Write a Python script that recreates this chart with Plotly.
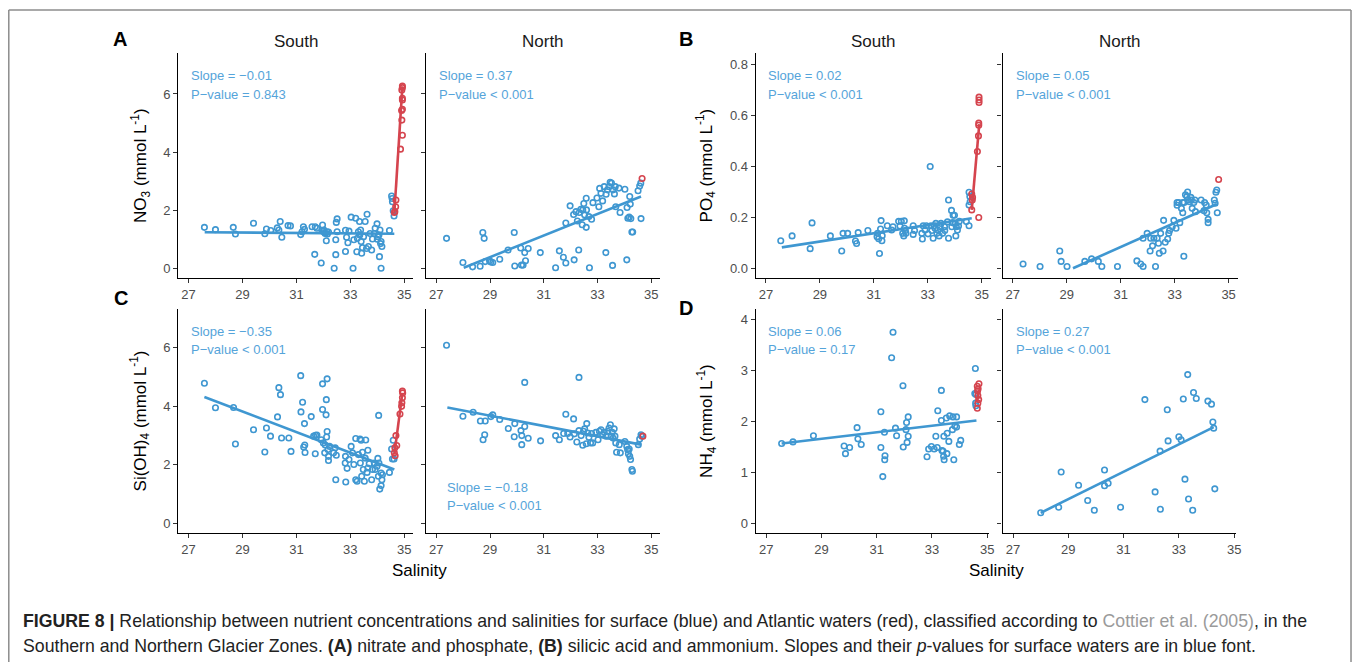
import plotly.graph_objects as go

# The page body has an 8px default margin, so the figure is drawn 8px smaller
# and every target pixel position is shifted by that offset.
PAGE_W, PAGE_H = 1360, 662
OFF = 8
W, H = PAGE_W - OFF, PAGE_H - OFF
BLUE = '#3F97D1'
RED = '#D5444E'
TXT_BLUE = '#55A4DA'
FONT = 'Liberation Sans, Arial, Helvetica, sans-serif'

# ---------------- data ----------------
x_ticks = [27, 29, 31, 33, 35]

# A: NO3, South
a_s_x = [27.59, 28.00, 28.66, 28.74, 29.41, 29.83, 29.89, 30.05, 30.29, 30.35, 30.40, 30.46, 30.69, 30.78,
         31.16, 31.21, 31.26, 31.30, 31.58, 31.68, 31.70, 31.76, 31.92, 31.97, 32.02, 32.07, 32.13, 32.19,
         32.11, 32.40, 32.46, 32.46, 32.48, 32.51, 32.51, 32.82, 32.82, 32.86, 32.91, 32.95, 33.03, 33.10,
         33.13, 33.20, 33.24, 33.26, 33.30, 33.34, 33.38, 33.40, 33.42, 33.45, 33.49, 33.55, 33.60, 33.62,
         33.67, 33.73, 33.79, 33.82, 33.89, 33.92, 33.99, 34.02, 34.06, 34.08, 34.10, 34.14, 34.17, 34.14,
         34.45, 34.53, 34.56, 34.59, 34.62, 32.00, 32.05, 32.15, 31.95, 33.35, 34.00, 34.12, 34.55]
a_s_y = [1.41, 1.33, 1.41, 1.18, 1.55, 1.19, 1.35, 1.30, 1.39, 1.32, 1.61, 1.07, 1.47, 1.46,
         1.16, 1.26, 1.43, 1.34, 1.43, 0.48, 1.43, 1.38, 0.18, 1.49, 1.32, 1.20, 1.26, 1.25,
         0.95, 0.00, 0.47, 0.98, 1.58, 1.70, 1.26, 1.31, 0.58, 1.07, 0.88, 1.28, 1.76, 0.00,
         0.98, 1.72, 0.57, 1.03, 1.26, 1.61, 1.32, 0.92, 0.52, 0.71, 1.09, 1.61, 0.68, 1.86,
         0.75, 1.20, 0.63, 1.01, 1.20, 1.38, 1.53, 1.09, 1.15, 0.40, 1.32, 0.92, 0.75, 0.00,
         1.30, 2.49, 2.29, 1.98, 1.80, 1.27, 1.22, 1.18, 1.30, 1.15, 1.00, 0.85, 2.40]
a_s_red_x = [34.63, 34.65, 34.68, 34.69, 34.86, 34.93, 34.91, 34.90, 34.93, 34.93, 34.93, 34.91, 34.93, 34.93]
a_s_red_y = [1.92, 1.95, 2.12, 2.35, 4.10, 4.58, 5.10, 5.43, 5.47, 5.79, 5.85, 6.14, 6.22, 6.27]
a_s_fit_x = [27.60, 34.63]
a_s_fit_y = [1.24, 1.19]
a_s_red_fit_x = [34.63, 34.93]
a_s_red_fit_y = [1.90, 6.25]

# A: NO3, North
a_n_x = [27.38, 27.99, 28.35, 28.63, 28.73, 28.78, 28.82, 28.98, 29.03, 29.10, 29.36, 29.67, 29.90, 29.92,
         30.14, 30.17, 30.23, 30.29, 30.32, 30.42, 30.87, 31.44, 31.58, 31.73, 31.82, 31.82, 31.98, 32.11,
         32.13, 32.20, 32.25, 32.30, 32.32, 32.38, 32.43, 32.45, 32.49, 32.52, 32.58, 32.58, 32.59, 32.68,
         32.70, 32.78, 32.83, 32.98, 33.05, 33.08, 33.13, 33.19, 33.25, 33.31, 33.32, 33.37, 33.43, 33.47,
         33.52, 33.56, 33.58, 33.63, 33.66, 33.68, 33.80, 33.84, 34.02, 34.09, 34.10, 34.13, 34.18, 34.20,
         34.22, 34.24, 34.28, 34.31, 34.51, 34.57, 34.62, 34.61]
a_n_y = [1.03, 0.20, 0.05, 0.07, 1.23, 1.03, 0.23, 0.26, 0.22, 0.20, 0.31, 0.63, 1.23, 0.08,
         0.70, 0.11, 0.11, 0.54, 0.26, 0.68, 0.54, 0.02, 0.60, 0.38, 1.56, 0.18, 2.15, 1.85,
         0.29, 1.95, 1.63, 0.63, 1.92, 2.03, 1.50, 2.01, 2.23, 1.84, 1.41, 2.41, 2.01, 1.78,
         0.02, 1.69, 2.26, 2.42, 2.12, 2.75, 2.58, 2.32, 2.81, 0.54, 2.55, 2.70, 2.81, 2.96,
         2.93, 0.10, 2.70, 2.56, 2.81, 2.12, 2.76, 1.92, 2.72, 0.29, 2.09, 1.72, 1.76, 2.47,
         2.21, 1.71, 1.25, 1.25, 2.67, 2.83, 1.71, 2.93]
a_n_red_x = [34.66]
a_n_red_y = [3.09]
a_n_fit_x = [28.02, 34.62]
a_n_fit_y = [0.02, 2.47]

# B: PO4, South
b_s_x = [27.55, 27.97, 28.64, 28.71, 29.39, 29.81, 29.86, 30.03, 30.32, 30.36, 30.42, 30.78, 31.12, 31.14,
         31.18, 31.21, 31.27, 31.25, 31.30, 31.31, 31.50, 31.66, 31.71, 31.92, 31.97, 32.02, 32.07, 32.11,
         32.13, 32.14, 32.17, 32.19, 32.46, 32.46, 32.51, 32.78, 32.80, 32.83, 32.90, 32.95, 33.01, 33.09,
         33.12, 33.15, 33.20, 33.23, 33.27, 33.30, 33.34, 33.37, 33.42, 33.46, 33.49, 33.55, 33.62, 33.63,
         33.73, 33.77, 33.77, 33.88, 33.89, 33.92, 33.94, 33.99, 34.02, 34.04, 34.06, 34.10, 34.14, 34.17,
         34.43, 34.53, 34.53, 34.53, 34.56, 34.57]
b_s_y = [0.108, 0.127, 0.077, 0.178, 0.127, 0.068, 0.137, 0.137, 0.107, 0.097, 0.140, 0.148, 0.124, 0.137,
         0.116, 0.058, 0.187, 0.154, 0.108, 0.128, 0.167, 0.150, 0.163, 0.184, 0.166, 0.184, 0.137, 0.127,
         0.186, 0.157, 0.148, 0.137, 0.167, 0.133, 0.148, 0.137, 0.115, 0.167, 0.150, 0.167, 0.135, 0.399,
         0.167, 0.148, 0.118, 0.167, 0.157, 0.176, 0.137, 0.150, 0.127, 0.163, 0.176, 0.137, 0.163, 0.148,
         0.182, 0.268, 0.118, 0.227, 0.163, 0.179, 0.208, 0.208, 0.176, 0.127, 0.163, 0.150, 0.166, 0.184,
         0.183, 0.167, 0.298, 0.248, 0.281, 0.261]
b_s_red_x = [34.63, 34.65, 34.63, 34.66, 34.84, 34.88, 34.89, 34.89, 34.90, 34.90, 34.90, 34.89]
b_s_red_y = [0.291, 0.268, 0.229, 0.278, 0.458, 0.519, 0.561, 0.569, 0.650, 0.660, 0.671, 0.199]
b_s_fit_x = [27.59, 34.63]
b_s_fit_y = [0.082, 0.196]
b_s_red_fit_x = [34.63, 34.91]
b_s_red_fit_y = [0.229, 0.565]

# B: PO4, North
b_n_x = [27.38, 28.01, 28.74, 28.79, 29.01, 29.67, 29.92, 30.17, 30.30, 30.88, 31.60, 31.74, 31.83, 31.83,
         31.98, 32.09, 32.11, 32.18, 32.23, 32.29, 32.35, 32.40, 32.43, 32.48, 32.57, 32.59, 32.65, 32.74,
         32.78, 32.81, 32.91, 32.97, 33.05, 33.09, 33.09, 33.15, 33.19, 33.25, 33.30, 33.30, 33.34, 33.35,
         33.40, 33.45, 33.48, 33.50, 33.55, 33.60, 33.62, 33.65, 33.71, 33.75, 33.77, 33.98, 34.09, 34.11,
         34.17, 34.19, 34.24, 34.24, 34.47, 34.50, 34.53, 34.56, 34.58]
b_n_y = [0.017, 0.007, 0.068, 0.027, 0.007, 0.027, 0.037, 0.027, 0.007, 0.007, 0.029, 0.017, 0.007, 0.118,
         0.137, 0.068, 0.118, 0.088, 0.118, 0.007, 0.118, 0.098, 0.059, 0.137, 0.068, 0.188, 0.102, 0.115,
         0.137, 0.148, 0.163, 0.188, 0.157, 0.247, 0.258, 0.258, 0.179, 0.235, 0.258, 0.218, 0.047, 0.258,
         0.288, 0.281, 0.299, 0.268, 0.261, 0.278, 0.268, 0.235, 0.258, 0.268, 0.222, 0.268, 0.226, 0.258,
         0.248, 0.218, 0.192, 0.179, 0.268, 0.255, 0.298, 0.307, 0.218]
b_n_red_x = [34.63]
b_n_red_y = [0.348]
b_n_fit_x = [29.23, 34.57]
b_n_fit_y = [0.000, 0.252]

# C: Si(OH)4, South
c_s_x = [27.59, 28.00, 28.67, 28.74, 29.41, 29.83, 29.89, 30.04, 30.30, 30.35, 30.41, 30.45, 30.72, 30.80,
         31.16, 31.17, 31.23, 31.27, 31.30, 31.31, 31.32, 31.55, 31.64, 31.70, 31.71, 31.76, 31.92, 31.97,
         31.97, 32.00, 32.05, 32.07, 32.10, 32.11, 32.12, 32.14, 32.14, 32.17, 32.19, 32.23, 32.19, 32.38,
         32.44, 32.46, 32.48, 32.81, 32.82, 32.83, 32.88, 32.95, 33.03, 33.08, 33.13, 33.20, 33.20, 33.25,
         33.30, 33.36, 33.37, 33.40, 33.42, 33.45, 33.48, 33.52, 33.55, 33.57, 33.62, 33.65, 33.65, 33.70,
         33.79, 33.82, 33.89, 33.92, 33.99, 34.02, 34.04, 34.05, 34.06, 34.09, 34.14, 34.14, 34.17, 34.19,
         34.45, 34.53, 34.56, 34.59, 34.62]
c_s_y = [4.78, 3.94, 3.95, 2.70, 3.19, 2.43, 3.25, 2.97, 3.63, 4.63, 4.39, 2.91, 2.91, 2.45,
         5.04, 3.80, 4.13, 2.60, 3.40, 2.67, 2.41, 3.64, 2.97, 2.37, 3.00, 3.01, 2.85, 4.76,
         3.88, 2.74, 2.40, 2.67, 3.70, 4.22, 2.94, 4.93, 3.13, 2.51, 2.28, 2.62, 2.14, 2.40,
         2.57, 1.48, 2.32, 2.05, 2.28, 1.40, 1.87, 2.17, 2.62, 2.40, 2.00, 2.89, 1.48, 1.43,
         2.34, 2.87, 2.05, 2.83, 1.60, 2.42, 1.83, 1.43, 2.22, 2.84, 1.73, 1.88, 2.49, 2.03,
         1.48, 1.83, 2.05, 1.83, 1.94, 2.21, 1.60, 3.68, 2.05, 1.16, 1.28, 1.71, 1.48, 1.65,
         1.73, 2.53, 2.19, 2.83, 2.19]
c_s_red_x = [34.63, 34.65, 34.66, 34.69, 34.72, 34.84, 34.90, 34.93, 34.94, 34.93, 34.91]
c_s_red_y = [2.40, 2.57, 2.30, 2.99, 2.65, 3.73, 3.99, 4.28, 4.45, 4.51, 4.11]
c_s_fit_x = [27.59, 34.63]
c_s_fit_y = [4.31, 1.83]
c_s_red_fit_x = [34.63, 34.93]
c_s_red_fit_y = [2.34, 4.45]

# C: Si(OH)4, North
c_n_x = [27.38, 27.99, 28.37, 28.64, 28.74, 28.80, 28.82, 29.03, 29.10, 29.36, 29.68, 29.90, 29.92, 30.15,
         30.18, 30.18, 30.29, 30.29, 30.42, 30.88, 31.44, 31.58, 31.74, 31.82, 31.89, 31.98, 32.11, 32.14,
         32.23, 32.31, 32.31, 32.39, 32.45, 32.48, 32.52, 32.58, 32.60, 32.64, 32.68, 32.74, 32.78, 32.82,
         32.94, 33.02, 33.07, 33.13, 33.19, 33.25, 33.32, 33.38, 33.43, 33.48, 33.51, 33.55, 33.58, 33.62,
         33.65, 33.68, 33.71, 33.81, 33.85, 34.02, 34.09, 34.12, 34.15, 34.18, 34.20, 34.23, 34.28, 34.30,
         34.52, 34.57, 34.62, 34.65]
c_n_y = [6.08, 3.65, 3.79, 3.49, 2.85, 3.02, 3.49, 3.64, 3.70, 3.54, 3.23, 2.95, 3.40, 3.16,
         2.99, 2.68, 4.81, 3.30, 2.90, 2.81, 2.99, 2.85, 3.06, 3.72, 3.06, 2.94, 3.56, 3.05,
         2.77, 4.98, 3.16, 2.99, 2.66, 3.14, 3.22, 2.71, 3.40, 3.08, 2.93, 2.74, 3.06, 2.74,
         3.10, 2.85, 3.14, 3.19, 3.02, 3.10, 2.97, 3.14, 3.25, 3.36, 2.97, 3.10, 2.91, 3.22,
         2.97, 2.74, 2.42, 2.68, 2.40, 2.79, 2.62, 2.51, 2.37, 2.53, 2.28, 2.17, 1.83, 1.77,
         2.68, 2.87, 3.02, 2.97]
c_n_red_x = [34.69]
c_n_red_y = [2.97]
c_n_fit_x = [27.41, 34.62]
c_n_fit_y = [3.95, 2.68]

# D: NH4, South
d_s_x = [27.56, 27.97, 28.71, 29.82, 29.87, 30.02, 30.29, 30.32, 30.44, 31.15, 31.15, 31.22, 31.28, 31.30,
         31.29, 31.54, 31.59, 31.68, 31.72, 31.95, 31.96, 32.06, 32.08, 32.10, 32.14, 32.14, 32.82, 32.88,
         32.98, 33.08, 33.14, 33.19, 33.21, 33.34, 33.34, 33.36, 33.40, 33.42, 33.43, 33.44, 33.52, 33.54,
         33.55, 33.61, 33.64, 33.74, 33.76, 33.79, 33.83, 33.89, 33.89, 33.99, 34.04, 34.55, 34.57, 34.58,
         34.59, 34.59]
d_s_y = [1.56, 1.59, 1.71, 1.51, 1.36, 1.48, 1.87, 1.65, 1.54, 2.18, 1.48, 0.91, 1.78, 1.32,
         1.24, 3.24, 3.74, 1.86, 1.71, 2.69, 1.49, 1.83, 1.97, 1.58, 2.08, 1.70, 1.30, 1.45,
         1.50, 1.45, 1.70, 1.48, 2.20, 2.60, 2.01, 1.42, 1.41, 1.31, 1.70, 1.24, 2.06, 1.36,
         1.76, 1.60, 2.10, 1.83, 2.08, 1.24, 1.90, 2.08, 1.88, 1.54, 1.62, 2.54, 3.03, 2.35,
         2.30, 2.52]
d_s_red_x = [34.64, 34.64, 34.65, 34.66, 34.69, 34.70, 34.67, 34.66]
d_s_red_y = [2.25, 2.68, 2.59, 2.50, 2.42, 2.73, 2.63, 2.35]
d_s_fit_x = [27.56, 34.61]
d_s_fit_y = [1.56, 2.01]
d_s_red_fit_x = [34.64, 34.70]
d_s_red_fit_y = [2.40, 2.62]

# D: NH4, North
d_n_x = [28.00, 28.65, 28.74, 29.37, 29.70, 29.94, 30.31, 30.31, 30.44, 30.89, 31.77, 32.14, 32.32, 32.33,
         32.58, 32.61, 33.00, 33.08, 33.16, 33.22, 33.32, 33.35, 33.50, 33.53, 33.63, 34.05, 34.18, 34.23,
         34.26, 34.30]
d_n_y = [0.20, 0.31, 1.00, 0.74, 0.44, 0.25, 1.04, 0.73, 0.78, 0.31, 2.42, 0.61, 1.41, 0.27,
         2.22, 1.61, 1.69, 1.63, 2.43, 0.86, 2.91, 0.47, 0.25, 2.56, 2.44, 2.39, 2.33, 1.98,
         1.86, 0.67]
d_n_fit_x = [28.00, 34.26]
d_n_fit_y = [0.20, 1.88]

# statistics text
stats = {
    'a_s': ('Slope = \u22120.01', 'P\u2212value = 0.843'),
    'a_n': ('Slope = 0.37', 'P\u2212value < 0.001'),
    'b_s': ('Slope = 0.02', 'P\u2212value < 0.001'),
    'b_n': ('Slope = 0.05', 'P\u2212value < 0.001'),
    'c_s': ('Slope = \u22120.35', 'P\u2212value < 0.001'),
    'c_n': ('Slope = \u22120.18', 'P\u2212value < 0.001'),
    'd_s': ('Slope = 0.06', 'P\u2212value = 0.17'),
    'd_n': ('Slope = 0.27', 'P\u2212value < 0.001'),
}

# ---------------- layout geometry (page pixels) ----------------
XR_ABC = [26.62, 35.33]
XR_D = [26.62, 35.05]

panels = [
    dict(key='a_s', xd=(179, 415), yd=(53, 278), xr=XR_ABC, yr=[-0.334, 7.41],
         yt=[0, 2, 4, 6], ytt=['0', '2', '4', '6'], ylab=True,
         pts=(a_s_x, a_s_y), red=(a_s_red_x, a_s_red_y), fit=(a_s_fit_x, a_s_fit_y),
         rfit=(a_s_red_fit_x, a_s_red_fit_y), txt=((190, 75), (190, 95))),
    dict(key='a_n', xd=(428, 663), yd=(53, 278), xr=XR_ABC, yr=[-0.334, 7.41],
         yt=[0, 2, 4, 6], ytt=['0', '2', '4', '6'], ylab=False,
         pts=(a_n_x, a_n_y), red=(a_n_red_x, a_n_red_y), fit=(a_n_fit_x, a_n_fit_y),
         rfit=None, txt=((439, 75), (439, 95))),
    dict(key='b_s', xd=(759, 995), yd=(53, 278), xr=XR_ABC, yr=[-0.038, 0.844],
         yt=[0, 0.2, 0.4, 0.6, 0.8], ytt=['0.0', '0.2', '0.4', '0.6', '0.8'], ylab=True,
         pts=(b_s_x, b_s_y), red=(b_s_red_x, b_s_red_y), fit=(b_s_fit_x, b_s_fit_y),
         rfit=(b_s_red_fit_x, b_s_red_fit_y), txt=((769, 75), (769, 95))),
    dict(key='b_n', xd=(1007, 1243), yd=(53, 278), xr=XR_ABC, yr=[-0.038, 0.844],
         yt=[0, 0.2, 0.4, 0.6, 0.8], ytt=['0.0', '0.2', '0.4', '0.6', '0.8'], ylab=False,
         pts=(b_n_x, b_n_y), red=(b_n_red_x, b_n_red_y), fit=(b_n_fit_x, b_n_fit_y),
         rfit=None, txt=((1018, 75), (1018, 95))),
    dict(key='c_s', xd=(179, 415), yd=(309, 533), xr=XR_ABC, yr=[-0.342, 7.32],
         yt=[0, 2, 4, 6], ytt=['0', '2', '4', '6'], ylab=True,
         pts=(c_s_x, c_s_y), red=(c_s_red_x, c_s_red_y), fit=(c_s_fit_x, c_s_fit_y),
         rfit=(c_s_red_fit_x, c_s_red_fit_y), txt=((190, 331), (190, 349))),
    dict(key='c_n', xd=(428, 663), yd=(309, 533), xr=XR_ABC, yr=[-0.342, 7.32],
         yt=[0, 2, 4, 6], ytt=['0', '2', '4', '6'], ylab=False,
         pts=(c_n_x, c_n_y), red=(c_n_red_x, c_n_red_y), fit=(c_n_fit_x, c_n_fit_y),
         rfit=None, txt=((447, 487), (447, 505))),
    dict(key='d_s', xd=(759, 993), yd=(309, 533), xr=XR_D, yr=[-0.196, 4.196],
         yt=[0, 1, 2, 3, 4], ytt=['0', '1', '2', '3', '4'], ylab=True,
         pts=(d_s_x, d_s_y), red=(d_s_red_x, d_s_red_y), fit=(d_s_fit_x, d_s_fit_y),
         rfit=(d_s_red_fit_x, d_s_red_fit_y), txt=((769, 331), (769, 349))),
    dict(key='d_n', xd=(1007, 1241), yd=(309, 533), xr=XR_D, yr=[-0.196, 4.196],
         yt=[0, 1, 2, 3, 4], ytt=['0', '1', '2', '3', '4'], ylab=False,
         pts=(d_n_x, d_n_y), red=None, fit=(d_n_fit_x, d_n_fit_y),
         rfit=None, txt=((1018, 331), (1018, 349))),
]


def px(p):
    return (p - OFF) / W


def py(p):
    return 1 - (p - OFF) / H


fig = go.Figure()
layout = {}
annotations = []

for i, p in enumerate(panels, start=1):
    sx = '' if i == 1 else str(i)
    xa, ya = 'x' + sx, 'y' + sx
    mk = dict(symbol='circle-open', size=5.5, line=dict(width=1.6))
    fig.add_trace(go.Scatter(x=p['pts'][0], y=p['pts'][1], mode='markers', xaxis=xa, yaxis=ya,
                             marker=dict(color=BLUE, **mk), showlegend=False, hoverinfo='skip'))
    if p['red'] is not None:
        fig.add_trace(go.Scatter(x=p['red'][0], y=p['red'][1], mode='markers', xaxis=xa, yaxis=ya,
                                 marker=dict(color=RED, **mk), showlegend=False, hoverinfo='skip'))
    fig.add_trace(go.Scatter(x=p['fit'][0], y=p['fit'][1], mode='lines', xaxis=xa, yaxis=ya,
                             line=dict(color=BLUE, width=2.6), showlegend=False, hoverinfo='skip'))
    if p['rfit'] is not None:
        fig.add_trace(go.Scatter(x=p['rfit'][0], y=p['rfit'][1], mode='lines', xaxis=xa, yaxis=ya,
                                 line=dict(color=RED, width=2.6), showlegend=False, hoverinfo='skip'))

    common = dict(showline=True, linecolor='black', linewidth=1.2, ticks='outside', ticklen=4,
                  tickwidth=1, tickcolor='#333333', showgrid=False, zeroline=False,
                  tickfont=dict(family=FONT, size=13, color='#4D4D4D'), fixedrange=True)
    layout['xaxis' + sx] = dict(domain=[px(p['xd'][0]), px(p['xd'][1])], range=p['xr'],
                                anchor=ya, tickvals=x_ticks, ticktext=[str(t) for t in x_ticks],
                                **common)
    layout['yaxis' + sx] = dict(domain=[py(p['yd'][1]), py(p['yd'][0])], range=p['yr'],
                                anchor=xa, tickvals=p['yt'], ticktext=p['ytt'],
                                showticklabels=p['ylab'], **common)
    t1, t2 = stats[p['key']]
    for (tx, ty), t in zip(p['txt'], (t1, t2)):
        annotations.append(dict(text=t, x=px(tx), y=py(ty), xref='paper', yref='paper',
                                xanchor='left', yanchor='middle', showarrow=False,
                                font=dict(family=FONT, size=13, color=TXT_BLUE)))

# strip labels
for (x0, x1), lab in [((179, 415), 'South'), ((428, 663), 'North'),
                      ((759, 995), 'South'), ((1007, 1243), 'North')]:
    annotations.append(dict(text=lab, x=px((x0 + x1) / 2), y=py(42), xref='paper', yref='paper',
                            xanchor='center', yanchor='middle', showarrow=False,
                            font=dict(family=FONT, size=17, color='#1A1A1A')))

# panel letters
for lab, (lx, ly) in [('A', (121, 39)), ('B', (689, 39)), ('C', (122, 298)), ('D', (689, 308))]:
    annotations.append(dict(text='<b>%s</b>' % lab, x=px(lx), y=py(ly), xref='paper', yref='paper',
                            xanchor='center', yanchor='middle', showarrow=False,
                            font=dict(family=FONT, size=20, color='black')))

# axis titles
for xc in (421, 1001):
    annotations.append(dict(text='Salinity', x=px(xc), y=py(570), xref='paper', yref='paper',
                            xanchor='center', yanchor='middle', showarrow=False,
                            font=dict(family=FONT, size=17, color='black')))

ytitles = [('NO<sub>3</sub> (mmol L<sup>-1</sup>)', 141, 165.5),
           ('PO<sub>4</sub> (mmol L<sup>-1</sup>)', 709, 165.5),
           ('Si(OH)<sub>4</sub> (mmol L<sup>-1</sup>)', 140, 421),
           ('NH<sub>4</sub> (mmol L<sup>-1</sup>)', 709, 421)]
for t, xc, yc in ytitles:
    annotations.append(dict(text=t, x=px(xc), y=py(yc), xref='paper', yref='paper',
                            xanchor='center', yanchor='middle', textangle=-90, showarrow=False,
                            font=dict(family=FONT, size=17, color='black')))

# caption
cap1 = ('<b>FIGURE 8 |</b> Relationship between nutrient concentrations and salinities for surface (blue) '
        'and Atlantic waters (red), classified according to '
        '<span style="color:#9A9A9A">Cottier et al. (2005)</span>, in the')
cap2 = ('Southern and Northern Glacier Zones. <b>(A)</b> nitrate and phosphate, <b>(B)</b> silicic acid '
        'and ammonium. Slopes and their <i>p</i>-values for surface waters are in blue font.')
for t, yc in [(cap1, 621), (cap2, 646)]:
    annotations.append(dict(text=t, x=px(21), y=py(yc), xref='paper', yref='paper',
                            xanchor='left', yanchor='middle', showarrow=False,
                            font=dict(family=FONT, size=17.7, color='#222222')))

FR = '#8C8C8C'
shapes = [
    dict(type='line', xref='paper', yref='paper', x0=px(8.8), x1=px(8.8), y0=py(10), y1=py(663),
         line=dict(color=FR, width=1.5)),
    dict(type='line', xref='paper', yref='paper', x0=px(8.8), x1=px(1357), y0=py(10), y1=py(10),
         line=dict(color=FR, width=1.5)),
    dict(type='line', xref='paper', yref='paper', x0=px(1357), x1=px(1357), y0=py(10), y1=py(663),
         line=dict(color=FR, width=1.5)),
]

fig.update_layout(width=W, height=H, margin=dict(l=0, r=0, t=0, b=0),
                  paper_bgcolor='white', plot_bgcolor='white',
                  annotations=annotations, shapes=shapes, **layout)

fig.write_html('out.html')
